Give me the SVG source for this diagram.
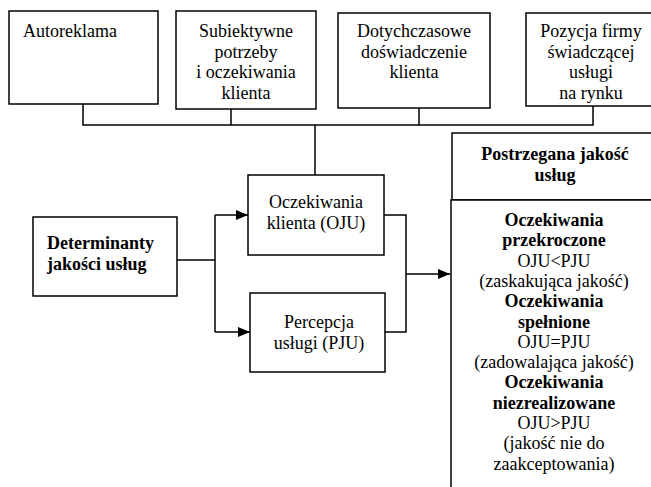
<svg xmlns="http://www.w3.org/2000/svg" width="651" height="487" viewBox="0 0 651 487">
  <style>
    .box { fill: #ffffff; stroke: #000000; stroke-width: 1.5; }
    .t { font-family: "Liberation Serif", "Times New Roman", serif; font-size: 18px; fill: #000000; }
    .c { text-anchor: middle; }
    .b { font-weight: bold; }
    .wire { fill: none; stroke: #000000; stroke-width: 1.5; }
  </style>
  <defs>
    <marker id="arrow" viewBox="0 0 12 10" refX="12" refY="5" markerWidth="12" markerHeight="10" markerUnits="userSpaceOnUse" orient="auto">
      <path d="M0,0 L12,5 L0,10 Z" fill="#000000"/>
    </marker>
  </defs>
  <rect width="651" height="487" fill="#ffffff"/>

  <g id="connectors">
    <!-- bus collecting the four top factors -->
    <path class="wire" d="M83,104 V125 H593 V106"/>
    <path class="wire" d="M231,109 V125"/>
    <path class="wire" d="M419,108 V125"/>
    <path class="wire" d="M315,125 V175"/>
    <!-- determinants split into expectations and perception -->
    <path class="wire" d="M177,260 H215"/>
    <path class="wire" d="M215,215 V332"/>
    <path class="wire" d="M215,215 H248" marker-end="url(#arrow)"/>
    <path class="wire" d="M215,332 H250" marker-end="url(#arrow)"/>
    <!-- comparison feeding perceived quality -->
    <path class="wire" d="M384,215 H406 V332 H385"/>
    <path class="wire" d="M406,274 H450" marker-end="url(#arrow)"/>
  </g>

  <g id="autoreklama">
    <rect class="box" x="9" y="11" width="149" height="93"/>
    <text class="t" x="23" y="37">Autoreklama</text>
  </g>

  <g id="subiektywne-potrzeby">
    <rect class="box" x="176" y="11" width="140" height="98"/>
    <text class="t c" x="246" y="37">Subiektywne</text>
    <text class="t c" x="246" y="57.5">potrzeby</text>
    <text class="t c" x="246" y="78">i oczekiwania</text>
    <text class="t c" x="246" y="98.5">klienta</text>
  </g>

  <g id="dotychczasowe-doswiadczenie">
    <rect class="box" x="338" y="13" width="152" height="95"/>
    <text class="t c" x="414" y="37">Dotychczasowe</text>
    <text class="t c" x="414" y="57.5">doświadczenie</text>
    <text class="t c" x="414" y="78">klienta</text>
  </g>

  <g id="pozycja-firmy">
    <rect class="box" x="526" y="13" width="140" height="93"/>
    <text class="t c" x="591" y="37">Pozycja firmy</text>
    <text class="t c" x="591" y="57.5">świadczącej</text>
    <text class="t c" x="591" y="78">usługi</text>
    <text class="t c" x="591" y="98.5">na rynku</text>
  </g>

  <g id="determinanty">
    <rect class="box" x="33" y="217" width="144" height="79"/>
    <text class="t b" x="47" y="249">Determinanty</text>
    <text class="t b" x="47" y="270">jakości usług</text>
  </g>

  <g id="oczekiwania-klienta">
    <rect class="box" x="248" y="175" width="136" height="80"/>
    <text class="t c" x="316" y="208">Oczekiwania</text>
    <text class="t c" x="316" y="229">klienta (OJU)</text>
  </g>

  <g id="percepcja-uslugi">
    <rect class="box" x="250" y="293" width="135" height="79"/>
    <text class="t c" x="319" y="328">Percepcja</text>
    <text class="t c" x="319" y="349">usługi (PJU)</text>
  </g>

  <g id="postrzegana-jakosc">
    <rect class="box" x="452" y="133" width="220" height="67"/>
    <text class="t c b" x="555" y="160">Postrzegana jakość</text>
    <text class="t c b" x="555" y="181">usług</text>
  </g>

  <g id="wyniki-porownania">
    <rect class="box" x="451" y="200" width="220" height="300"/>
    <text class="t c b" x="554" y="226">Oczekiwania</text>
    <text class="t c b" x="554" y="246.3">przekroczone</text>
    <text class="t c" x="554" y="266.6">OJU&lt;PJU</text>
    <text class="t c" x="554" y="286.9">(zaskakująca jakość)</text>
    <text class="t c b" x="554" y="307.2">Oczekiwania</text>
    <text class="t c b" x="554" y="327.5">spełnione</text>
    <text class="t c" x="554" y="347.8">OJU=PJU</text>
    <text class="t c" x="554" y="368.1">(zadowalająca jakość)</text>
    <text class="t c b" x="554" y="388.4">Oczekiwania</text>
    <text class="t c b" x="554" y="408.7">niezrealizowane</text>
    <text class="t c" x="554" y="429">OJU&gt;PJU</text>
    <text class="t c" x="554" y="449.3">(jakość nie do</text>
    <text class="t c" x="554" y="469.6">zaakceptowania)</text>
  </g>
</svg>
